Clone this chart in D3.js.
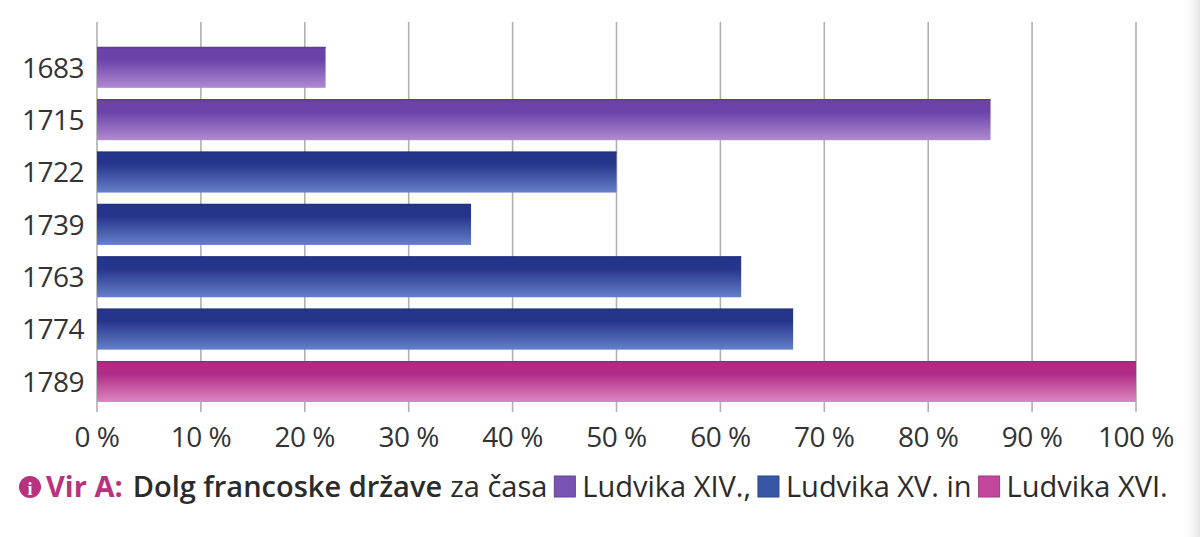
<!DOCTYPE html>
<html>
<head>
<meta charset="utf-8">
<script src="https://cdn.jsdelivr.net/npm/d3@7/dist/d3.min.js"></script>
<style>
  body { margin: 0; background: #fff; }
  svg { display: block; }
  text { font-family: "Open Sans", "Noto Sans", sans-serif; }
</style>
</head>
<body>
<div id="chart"></div>
<script>
// data
var years = ['1683', '1715', '1722', '1739', '1763', '1774', '1789'];
var debt = [22, 86, 50, 36, 62, 67, 100];
var kings = ['xiv', 'xiv', 'xv', 'xv', 'xv', 'xv', 'xvi'];
var ticks = [0, 10, 20, 30, 40, 50, 60, 70, 80, 90, 100];
var legendLabels = ['Ludvika XIV.,', 'Ludvika XV. in', 'Ludvika XVI.'];

var COLORS = {
    xiv: { top: '#6a42a8', bottom: '#b08ad2', swatch: '#7a52b4' },
    xv: { top: '#26358c', bottom: '#6580c8', swatch: '#3756a6' },
    xvi: { top: '#b02b86', bottom: '#dc86bf', swatch: '#c4479e' }
};

var W = 1200, H = 537;
var left = 97;
var width = 1039;
var barTop = 47, barBottom = 402;

var svg = d3.select('#chart').append('svg')
    .attr('width', W).attr('height', H);

// gradients
var defs = svg.append('defs');
Object.keys(COLORS).forEach(function(k) {
    var g = defs.append('linearGradient').attr('id', 'grad-' + k)
        .attr('x1', 0).attr('y1', 0).attr('x2', 0).attr('y2', 1);
    g.append('stop').attr('offset', '0%').attr('stop-color', COLORS[k].top);
    g.append('stop').attr('offset', '30%').attr('stop-color', COLORS[k].top);
    g.append('stop').attr('offset', '100%').attr('stop-color', COLORS[k].bottom);
});

// scanned page edge shading on the right
var edge = defs.append('linearGradient').attr('id', 'edge')
    .attr('x1', 0).attr('x2', 1).attr('y1', 0).attr('y2', 0);
edge.append('stop').attr('offset', '0%').attr('stop-color', '#fff').attr('stop-opacity', 0);
edge.append('stop').attr('offset', '100%').attr('stop-color', '#e4e4e4').attr('stop-opacity', 1);
svg.append('rect').attr('x', 1180).attr('y', 0).attr('width', 20).attr('height', H)
    .attr('fill', 'url(#edge)');

var x = d3.scaleLinear().domain([0, 100]).range([left, left + width]);
var y = d3.scaleBand().domain(years).range([barTop, barBottom]).paddingInner(0.22).paddingOuter(0);

// gridlines
svg.append('g').attr('class', 'grid')
    .selectAll('line').data(ticks).join('line')
    .attr('x1', function(d) { return x(d); })
    .attr('x2', function(d) { return x(d); })
    .attr('y1', 22)
    .attr('y2', 412)
    .attr('stroke', '#b0b0b0')
    .attr('stroke-width', 1.6);

// bars
var bars = svg.append('g').selectAll('g').data(years).join('g');
bars.append('rect')
    .attr('x', x(0))
    .attr('y', function(d) { return y(d); })
    .attr('width', function(d, i) { return x(debt[i]) - x(0); })
    .attr('height', y.bandwidth())
    .attr('fill', function(d, i) { return 'url(#grad-' + kings[i] + ')'; });
bars.append('line')
    .attr('x1', x(0))
    .attr('x2', function(d, i) { return x(debt[i]); })
    .attr('y1', function(d) { return y(d) + 0.5; })
    .attr('y2', function(d) { return y(d) + 0.5; })
    .attr('stroke', function(d, i) { return d3.color(COLORS[kings[i]].top).darker(0.3); })
    .attr('stroke-width', 1.5);

// y labels
svg.append('g').selectAll('text').data(years).join('text')
    .attr('x', 84)
    .attr('y', function(d) { return y(d) + y.bandwidth() / 2; })
    .attr('dy', '0.36em')
    .attr('text-anchor', 'end')
    .attr('fill', '#333')
    .style('font-size', '28px')
    .style('letter-spacing', '-0.5px')
    .text(function(d) { return d; });

// x labels
svg.append('g').selectAll('text').data(ticks).join('text')
    .attr('x', function(d) { return x(d); })
    .attr('y', 447)
    .attr('text-anchor', 'middle')
    .attr('fill', '#333')
    .style('font-size', '28px')
    .style('letter-spacing', '-0.5px')
    .text(function(d) { return d + ' %'; });

// caption with legend
var cap = svg.append('g').attr('transform', 'translate(0,497)');
var cx = 19;
cap.append('circle').attr('cx', cx + 11).attr('cy', -10).attr('r', 11).attr('fill', '#b8327f');
cap.append('text').attr('x', cx + 11).attr('y', -2).attr('text-anchor', 'middle')
    .attr('fill', '#fff').style('font-size', '18px').style('font-weight', 'bold')
    .style('font-family', 'serif').text('i');
cx += 27;

function addText(str, weight, color, gap) {
    var t = cap.append('text').attr('x', cx).attr('y', 0)
        .attr('fill', color)
        .style('font-size', '29px')
        .style('font-weight', weight)
        .text(str);
    cx += t.node().getComputedTextLength() + gap;
}
function addSwatch(color) {
    cap.append('rect').attr('x', cx).attr('y', -21).attr('width', 21).attr('height', 21)
        .attr('fill', color).attr('stroke', d3.color(color).darker(0.6)).attr('stroke-width', 1);
    cx += 28;
}

addText('Vir A:', 'bold', '#b8327f', 10);
addText('Dolg francoske države', 600, '#2b2b2b', 8);
addText('za časa', 'normal', '#2b2b2b', 7);
addSwatch(COLORS.xiv.swatch);
addText(legendLabels[0], 'normal', '#2b2b2b', 7);
addSwatch(COLORS.xv.swatch);
addText(legendLabels[1], 'normal', '#2b2b2b', 7);
addSwatch(COLORS.xvi.swatch);
addText(legendLabels[2], 'normal', '#2b2b2b', 0);
</script>
</body>
</html>
